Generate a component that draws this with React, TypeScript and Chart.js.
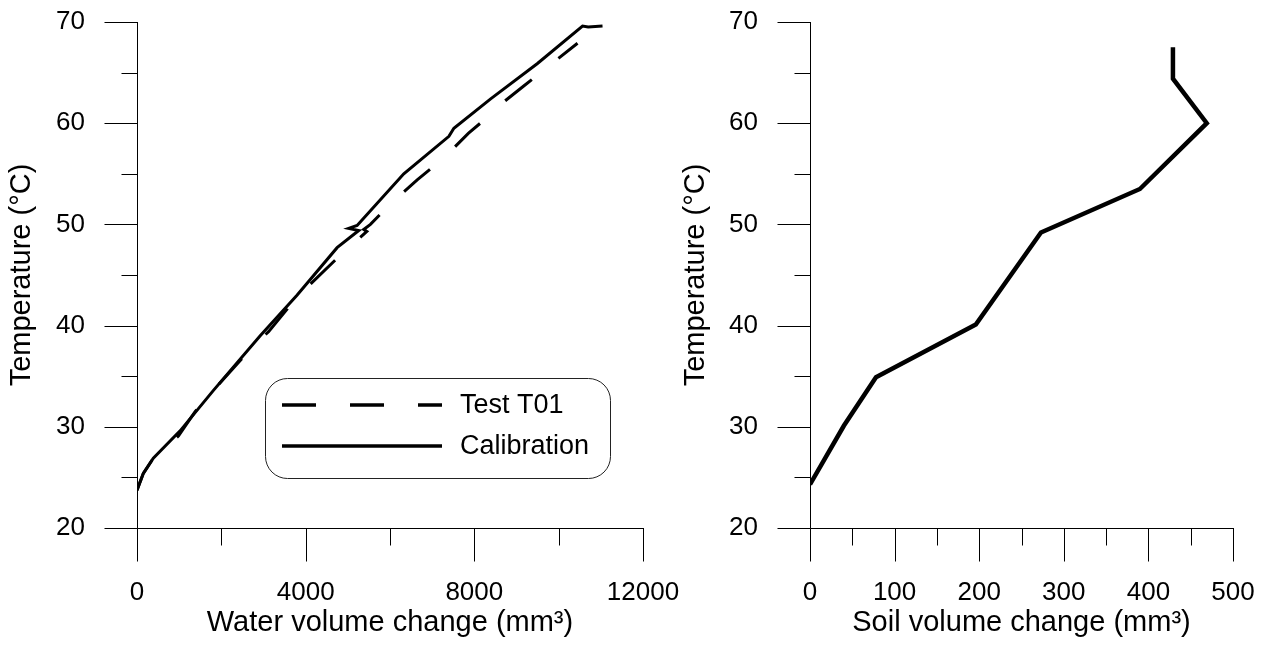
import React, { useEffect, useRef } from 'react';
import { Chart, registerables } from 'chart.js';

Chart.register(...registerables);

// ---- Data ----
const waterCalibX = [0, 150, 387, 1022, 1813, 2922, 3794, 4745, 5259, 5021, 5220, 6327, 7397, 7515, 8387, 9497, 10566, 10700, 11040];
const waterCalibT = [23.75, 25.4, 26.9, 29.6, 33.6, 39.0, 43.0, 47.7, 49.4, 49.6, 49.9, 55.0, 58.7, 59.5, 62.4, 65.9, 69.6, 69.5, 69.6];

const waterTestX = [0, 150, 387, 744, 982, 1378, 1813, 2288, 2763, 3120, 3635, 3714, 4783, 5450, 5377, 5536, 6051, 6645, 7263, 7857, 8228, 8546, 9179, 9813, 10447];
const waterTestT = [23.7, 25.4, 26.9, 28.2, 29.1, 31.5, 33.6, 35.8, 38.0, 39.4, 42.0, 42.5, 46.8, 49.3, 49.5, 50.0, 52.2, 54.4, 56.5, 59.0, 60.3, 61.6, 63.7, 65.8, 67.9];

const soilX = [0, 40, 78, 196, 273, 390, 469, 429, 429];
const soilT = [24.3, 30.1, 34.9, 40.1, 49.2, 53.5, 60.0, 64.4, 67.5];

const waterXTicks = [0, 4000, 8000, 12000];
const soilXTicks = [0, 100, 200, 300, 400, 500];
const tempTicks = [20, 30, 40, 50, 60, 70];
const waterXMinor = 2000;
const soilXMinor = 50;
const tempMinor = 5;

const seriesLabels = ['Test T01', 'Calibration'];
const yTitle = 'Temperature (°C)';
const waterXTitle = 'Water volume change (mm³)';
const soilXTitle = 'Soil volume change (mm³)';

const FONT = "'Liberation Sans', Arial, Helvetica, sans-serif";
const W = 1268;
const H = 648;

const toPoints = (xs: number[], ys: number[]) => xs.map((x, i) => ({ x, y: ys[i] }));

// ---- Plugins ----
const axesPlugin = {
  id: 'customAxes',
  beforeDatasetsDraw(chart: any, _args: any, opts: any) {
    const { ctx, chartArea, scales } = chart;
    const xs = scales.x;
    const ys = scales.y;
    const L = Math.round(chartArea.left) + 0.5;
    const B = Math.round(chartArea.bottom) + 0.5;
    ctx.save();
    ctx.strokeStyle = '#000';
    ctx.lineWidth = 1;
    ctx.beginPath();
    ctx.moveTo(L, Math.round(ys.getPixelForValue(ys.max)));
    ctx.lineTo(L, B);
    ctx.moveTo(L, B);
    ctx.lineTo(Math.round(xs.getPixelForValue(xs.max)) + 1, B);
    const isMajor = (v: number, majors: number[]) => majors.some((m) => Math.abs(m - v) < 1e-6);
    for (let v = ys.min; v <= ys.max + 1e-9; v += opts.yMinor) {
      const len = isMajor(v, opts.yMajors) ? 33 : 16;
      const py = Math.round(ys.getPixelForValue(v)) + 0.5;
      ctx.moveTo(L - len, py);
      ctx.lineTo(L, py);
    }
    for (let v = xs.min; v <= xs.max + 1e-9; v += opts.xMinor) {
      const len = isMajor(v, opts.xMajors) ? 33 : 17;
      const px = Math.round(xs.getPixelForValue(v)) + 0.5;
      ctx.moveTo(px, B);
      ctx.lineTo(px, B + len);
    }
    ctx.stroke();
    ctx.restore();
  },
};

const legendPlugin = {
  id: 'boxLegend',
  afterDraw(chart: any, _args: any, opts: any) {
    if (!opts || !opts.show) return;
    const { ctx, chartArea } = chart;
    const L = chartArea.left;
    const T = chartArea.top;
    const bx = L + 128.5;
    const by = T + 356.5;
    const bw = 345;
    const bh = 100;
    const r = 22;
    ctx.save();
    ctx.strokeStyle = '#222';
    ctx.lineWidth = 1;
    ctx.fillStyle = '#fff';
    ctx.beginPath();
    ctx.moveTo(bx + r, by);
    ctx.lineTo(bx + bw - r, by);
    ctx.arcTo(bx + bw, by, bx + bw, by + r, r);
    ctx.lineTo(bx + bw, by + bh - r);
    ctx.arcTo(bx + bw, by + bh, bx + bw - r, by + bh, r);
    ctx.lineTo(bx + r, by + bh);
    ctx.arcTo(bx, by + bh, bx, by + bh - r, r);
    ctx.lineTo(bx, by + r);
    ctx.arcTo(bx, by, bx + r, by, r);
    ctx.closePath();
    ctx.fill();
    ctx.stroke();

    const datasets = chart.data.datasets.slice(0, 2);
    const rows = [T + 383, T + 424];
    datasets.forEach((ds: any, i: number) => {
      const y = rows[i];
      ctx.strokeStyle = '#000';
      ctx.lineWidth = 3.5;
      ctx.setLineDash(ds.borderDash || []);
      ctx.beginPath();
      ctx.moveTo(L + 145, y);
      ctx.lineTo(L + 305, y);
      ctx.stroke();
      ctx.setLineDash([]);
      ctx.fillStyle = '#000';
      ctx.font = `27px ${FONT}`;
      ctx.textBaseline = 'middle';
      ctx.textAlign = 'left';
      ctx.fillText(ds.label, L + 323, y + 1);
    });
    ctx.restore();
  },
};

function makeOptions(cfg: {
  padLeft: number;
  padRight: number;
  yWidth: number;
  xMin: number;
  xMax: number;
  xTicks: number[];
  xMinor: number;
  xTitle: string;
  yTitlePad: number;
  legend: boolean;
}) {
  const tickFont = { family: FONT, size: 26 };
  const titleFont = { family: FONT, size: 29 };
  return {
    responsive: false,
    animation: false as const,
    events: [] as any[],
    layout: { padding: { left: cfg.padLeft, right: cfg.padRight, top: 22, bottom: 0 } },
    plugins: {
      legend: { display: false },
      tooltip: { enabled: false },
      customAxes: { yMinor: tempMinor, yMajors: tempTicks, xMinor: cfg.xMinor, xMajors: cfg.xTicks },
      boxLegend: { show: cfg.legend },
    },
    scales: {
      x: {
        type: 'linear' as const,
        min: cfg.xMin,
        max: cfg.xMax,
        grid: { display: false, drawTicks: false, tickLength: 0 },
        border: { display: false },
        afterBuildTicks: (s: any) => {
          s.ticks = cfg.xTicks.map((v) => ({ value: v }));
        },
        afterFit: (s: any) => {
          s.height = 120;
          s.paddingLeft = 0;
          s.paddingRight = 0;
        },
        ticks: {
          color: '#000',
          font: tickFont,
          padding: 49,
          maxRotation: 0,
          autoSkip: false,
          callback: (v: any) => String(v),
        },
        title: {
          display: true,
          text: cfg.xTitle,
          color: '#000',
          font: titleFont,
          padding: { top: 0, bottom: 8 },
        },
      },
      y: {
        type: 'linear' as const,
        min: 20,
        max: 70,
        grid: { display: false, drawTicks: false, tickLength: 0 },
        border: { display: false },
        afterBuildTicks: (s: any) => {
          s.ticks = tempTicks.map((v) => ({ value: v }));
        },
        afterFit: (s: any) => {
          s.width = cfg.yWidth;
          s.paddingTop = 0;
          s.paddingBottom = 0;
        },
        ticks: {
          color: '#000',
          font: tickFont,
          padding: 52,
          autoSkip: false,
          callback: (v: any) => String(v),
        },
        title: {
          display: true,
          text: yTitle,
          color: '#000',
          font: titleFont,
          padding: { top: cfg.yTitlePad, bottom: 0 },
        },
      },
    },
  };
}

export default function App() {
  const leftRef = useRef<HTMLCanvasElement | null>(null);
  const rightRef = useRef<HTMLCanvasElement | null>(null);

  useEffect(() => {
    if (!leftRef.current || !rightRef.current) return;
    const left = new Chart(leftRef.current, {
      type: 'line',
      data: {
        datasets: [
          {
            label: seriesLabels[0],
            data: toPoints(waterTestX, waterTestT),
            borderColor: '#000',
            borderWidth: 3,
            borderDash: [34, 34],
            pointRadius: 0,
            tension: 0,
            fill: false,
          },
          {
            label: seriesLabels[1],
            data: toPoints(waterCalibX, waterCalibT),
            borderColor: '#000',
            borderWidth: 3,
            pointRadius: 0,
            tension: 0,
            fill: false,
          },
        ],
      },
      options: makeOptions({
        padLeft: 0,
        padRight: W - 643,
        yWidth: 137,
        xMin: 0,
        xMax: 12000,
        xTicks: waterXTicks,
        xMinor: waterXMinor,
        xTitle: waterXTitle,
        yTitlePad: 5,
        legend: true,
      }) as any,
      plugins: [axesPlugin, legendPlugin],
    });

    const right = new Chart(rightRef.current, {
      type: 'line',
      data: {
        datasets: [
          {
            label: 'Soil',
            data: toPoints(soilX, soilT),
            borderColor: '#000',
            borderWidth: 4.5,
            pointRadius: 0,
            tension: 0,
            fill: false,
            borderJoinStyle: 'miter',
          },
        ],
      },
      options: makeOptions({
        padLeft: 660,
        padRight: W - 1233,
        yWidth: 150,
        xMin: 0,
        xMax: 500,
        xTicks: soilXTicks,
        xMinor: soilXMinor,
        xTitle: soilXTitle,
        yTitlePad: 19,
        legend: false,
      }) as any,
      plugins: [axesPlugin],
    });

    return () => {
      left.destroy();
      right.destroy();
    };
  }, []);

  const canvasStyle: React.CSSProperties = { position: 'absolute', left: 0, top: 0, width: W, height: H };
  return (
    <div style={{ position: 'fixed', left: 0, top: 0, width: W, height: H, background: '#fff' }}>
      <canvas ref={leftRef} width={W} height={H} style={canvasStyle} />
      <canvas ref={rightRef} width={W} height={H} style={canvasStyle} />
    </div>
  );
}
